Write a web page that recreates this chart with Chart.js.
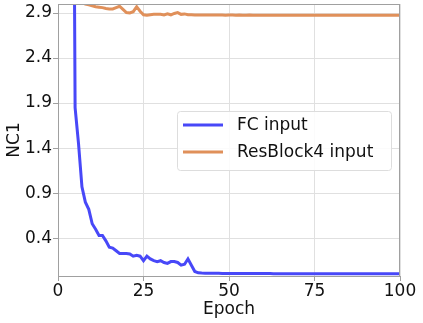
<!DOCTYPE html>
<html>
<head>
<meta charset="utf-8">
<script src="https://cdn.jsdelivr.net/npm/chart.js@4"></script>
<style>
  html, body { margin: 0; padding: 0; background: #fff; }
  #wrap { width: 423px; height: 323px; }
</style>
</head>
<body>
<div id="wrap"><canvas id="nc1Chart" width="423" height="323"></canvas></div>
<script>
// epochs 0..100
const epochs = Array.from({ length: 101 }, (_, i) => i);

const fcInput = [
  30, 20, 15, 12, 9, 1.85, 1.45, 0.97, 0.80, 0.72,
  0.56, 0.50, 0.43, 0.43, 0.37, 0.30, 0.29, 0.26, 0.23, 0.23,
  0.23, 0.225, 0.20, 0.21, 0.20, 0.15, 0.20, 0.17, 0.15, 0.14,
  0.15, 0.13, 0.12, 0.14, 0.14, 0.13, 0.10, 0.11, 0.17, 0.10,
  0.03, 0.015, 0.012, 0.011, 0.011, 0.010, 0.010, 0.010, 0.009, 0.009,
  0.009, 0.009, 0.008, 0.008, 0.008, 0.008, 0.008, 0.007, 0.007, 0.007,
  0.007, 0.007, 0.007, 0.006, 0.006, 0.006, 0.006, 0.006, 0.006, 0.006,
  0.006, 0.005, 0.005, 0.005, 0.005, 0.005, 0.005, 0.005, 0.005, 0.005,
  0.005, 0.005, 0.004, 0.004, 0.004, 0.004, 0.004, 0.004, 0.004, 0.004,
  0.004, 0.004, 0.004, 0.004, 0.004, 0.004, 0.004, 0.004, 0.004, 0.004,
  0.004
];

const resBlock4Input = [
  3.5, 3.3, 3.2, 3.12, 3.08, 3.05, 3.03, 3.015, 3.0, 2.99,
  2.98, 2.97, 2.965, 2.96, 2.95, 2.945, 2.945, 2.96, 2.975, 2.94,
  2.905, 2.90, 2.915, 2.97, 2.92, 2.88, 2.875, 2.88, 2.885, 2.885,
  2.885, 2.878, 2.89, 2.88, 2.895, 2.905, 2.885, 2.89, 2.88, 2.88,
  2.878, 2.878, 2.877, 2.878, 2.877, 2.877, 2.878, 2.877, 2.877, 2.876,
  2.877, 2.877, 2.876, 2.877, 2.876, 2.876, 2.877, 2.876, 2.876, 2.876,
  2.876, 2.876, 2.875, 2.876, 2.876, 2.875, 2.876, 2.875, 2.875, 2.876,
  2.875, 2.875, 2.875, 2.875, 2.876, 2.875, 2.875, 2.875, 2.875, 2.875,
  2.875, 2.875, 2.875, 2.874, 2.875, 2.875, 2.875, 2.874, 2.875, 2.875,
  2.874, 2.875, 2.874, 2.875, 2.874, 2.874, 2.875, 2.874, 2.874, 2.874,
  2.874
];

const xTicks = [0, 25, 50, 75, 100];
const yTicks = [0.4, 0.9, 1.4, 1.9, 2.4, 2.9];

const seriesNames = ["FC input", "ResBlock4 input"];
const seriesColors = ["#4848f8", "#e0905a"];

const FONT = "'DejaVu Sans', sans-serif";

// legend box inside the plot + frame round the axes
const frameAndLegend = {
  id: "frameAndLegend",
  afterDraw(chart) {
    const { ctx, chartArea: a } = chart;
    ctx.save();
    ctx.strokeStyle = "#a0a0a0";
    ctx.lineWidth = 1;
    ctx.strokeRect(a.left + 0.5, a.top + 0.5, a.right - a.left - 1, a.bottom - a.top);

    const x = a.right - 223, y = a.top + 107, w = 214, h = 59;
    ctx.fillStyle = "rgba(255,255,255,0.85)";
    ctx.strokeStyle = "#dddddd";
    ctx.beginPath();
    ctx.roundRect(x + 0.5, y + 0.5, w, h, 3);
    ctx.fill();
    ctx.stroke();

    ctx.font = "17px " + FONT;
    ctx.textBaseline = "middle";
    seriesNames.forEach((name, i) => {
      const ly = y + 14 + i * 27;
      ctx.strokeStyle = seriesColors[i];
      ctx.lineWidth = 3;
      ctx.beginPath();
      ctx.moveTo(x + 6, ly);
      ctx.lineTo(x + 46, ly);
      ctx.stroke();
      ctx.fillStyle = "#111";
      ctx.fillText(name, x + 60, ly + 1);
    });
    ctx.restore();
  },
};

new Chart(document.getElementById("nc1Chart"), {
  type: "line",
  data: {
    datasets: [
      {
        label: seriesNames[0],
        data: epochs.map((e, i) => ({ x: e, y: fcInput[i] })),
        borderColor: seriesColors[0],
        borderWidth: 3,
        pointRadius: 0,
        tension: 0,
      },
      {
        label: seriesNames[1],
        data: epochs.map((e, i) => ({ x: e, y: resBlock4Input[i] })),
        borderColor: seriesColors[1],
        borderWidth: 3,
        pointRadius: 0,
        tension: 0,
      },
    ],
  },
  options: {
    responsive: false,
    animation: false,
    layout: { padding: { top: 4, right: 23, left: 0, bottom: 0 } },
    plugins: {
      legend: { display: false },
      tooltip: { enabled: false },
    },
    scales: {
      x: {
        type: "linear",
        min: 0,
        max: 100,
        afterBuildTicks: (s) => { s.ticks = xTicks.map((v) => ({ value: v })); },
        afterFit: (s) => { s.height = 47; },
        ticks: {
          color: "#111",
          font: { family: FONT, size: 17 },
          padding: 0,
          maxRotation: 0,
        },
        grid: { color: "#e0e0e0", tickColor: "#a0a0a0", tickLength: 5 },
        border: { color: "#a0a0a0" },
        title: {
          display: true,
          text: "Epoch",
          color: "#111",
          font: { family: FONT, size: 17 },
          padding: { top: 0, bottom: 3 },
        },
      },
      y: {
        min: -0.02,
        max: 3.0,
        afterBuildTicks: (s) => { s.ticks = yTicks.map((v) => ({ value: v })); },
        afterFit: (s) => {
          s.width = 58;
          s.paddingTop = 0;
          s.paddingBottom = 0;
        },
        ticks: {
          color: "#111",
          font: { family: FONT, size: 17 },
          padding: 1,
          callback: (v) => v.toFixed(1),
        },
        grid: { color: "#e0e0e0", tickColor: "#a0a0a0", tickLength: 5 },
        border: { color: "#a0a0a0" },
        title: {
          display: true,
          text: "NC1",
          color: "#111",
          font: { family: FONT, size: 17 },
          padding: { top: 4, bottom: 0 },
        },
      },
    },
  },
  plugins: [frameAndLegend],
});
</script>
</body>
</html>
